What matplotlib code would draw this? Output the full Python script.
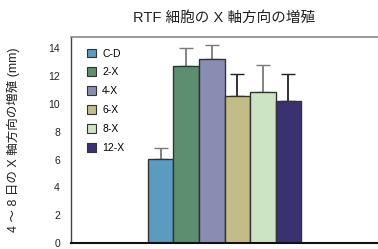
import numpy as np
import matplotlib.pyplot as plt

plt.rcParams['font.family'] = ['Liberation Sans', 'Noto Sans CJK JP', 'DejaVu Sans']

# data
groups = ['C-D', '2-X', '4-X', '6-X', '8-X', '12-X']
values = [6.05, 12.7, 13.25, 10.55, 10.85, 10.2]
errors = [0.75, 1.35, 1.0, 1.6, 1.95, 1.95]
colors = ['#5b9bbf', '#5b8f6f', '#8a8db2', '#c4bc87', '#cde4c4', '#3a3170']
err_colors = ['#7a7a7a', '#7a7a7a', '#7a7a7a', '#222222', '#7a7a7a', '#222222']
yticks = [0, 2, 4, 6, 8, 10, 12, 14]

fig = plt.figure(figsize=(3.78, 2.49), dpi=100)
ax = fig.add_axes([0.188, 0.024, 0.812, 0.827])

w = 0.5 / len(groups)
x = (np.arange(len(groups)) - (len(groups) - 1) / 2) * w
for i in range(len(groups)):
    ax.bar(x[i], values[i], width=w, color=colors[i], edgecolor='#333333',
           linewidth=1.0, label=groups[i], zorder=2)
    ax.errorbar(x[i], values[i], yerr=[[0], [errors[i]]], fmt='none',
                ecolor=err_colors[i], elinewidth=1.3, capsize=4.7,
                capthick=1.0, zorder=1)

ax.set_xlim(-0.5, 0.5)
ax.set_ylim(0, 14.8)
ax.set_yticks(yticks)
ax.set_xticks([])
ax.tick_params(axis='y', length=0, pad=8, labelsize=7.5, labelcolor='#222222')
ax.spines['right'].set_visible(False)
ax.spines['top'].set_color('#888888')
ax.spines['top'].set_linewidth(1.2)
ax.spines['left'].set_color('#444444')
ax.spines['left'].set_linewidth(1.0)
ax.spines['bottom'].set_color('#111111')
ax.spines['bottom'].set_linewidth(1.5)

ax.set_ylabel('4 ～ 8 日の X 軸方向の増殖 (mm)', fontsize=9, color='#222222',
              labelpad=20)
fig.text(0.593, 0.93, 'RTF 細胞の X 軸方向の増殖', ha='center', va='center',
         fontsize=10.5, color='#222222')

leg = ax.legend(loc='upper left', bbox_to_anchor=(0.02, 0.99), frameon=False,
                fontsize=7.5, handlelength=0.9, handleheight=0.9,
                handletextpad=0.6, labelspacing=0.85)
for h in leg.legend_handles:
    h.set_edgecolor('#333333')
    h.set_linewidth(0.8)

fig.savefig('out.png', dpi=100)
